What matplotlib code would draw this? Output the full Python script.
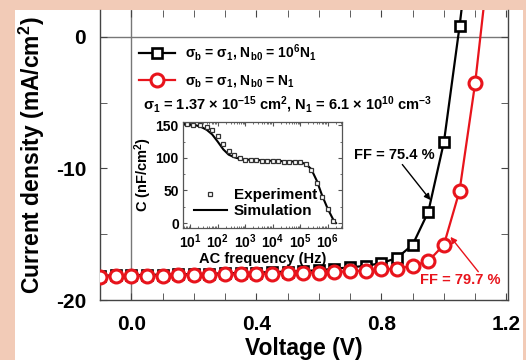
import numpy as np
import matplotlib
matplotlib.use("Agg")
import matplotlib.pyplot as plt
from matplotlib.patches import Rectangle
from matplotlib.lines import Line2D
from matplotlib.ticker import MultipleLocator, LogLocator, NullFormatter, FixedLocator

plt.rcParams['font.family'] = ['Liberation Sans', 'DejaVu Sans']
plt.rcParams['font.weight'] = 'bold'
plt.rcParams['axes.unicode_minus'] = False
plt.rcParams['mathtext.fontset'] = 'custom'
plt.rcParams['mathtext.rm'] = 'Liberation Sans:bold'
plt.rcParams['mathtext.bf'] = 'Liberation Sans:bold'
plt.rcParams['mathtext.it'] = 'Liberation Sans:bold'
plt.rcParams['mathtext.sf'] = 'Liberation Sans:bold'

# ---- main J-V data ----
voltage = [-0.10, -0.05, 0.00, 0.05, 0.10, 0.15, 0.20, 0.25, 0.30, 0.35, 0.40, 0.45,
           0.50, 0.55, 0.60, 0.65, 0.70, 0.75, 0.80, 0.85, 0.90, 0.95, 1.00, 1.05, 1.10]
j_black = [-18.15, -18.13, -18.11, -18.09, -18.07, -18.05, -18.03, -18.00, -17.97, -17.94,
           -17.91, -17.88, -17.84, -17.80, -17.74, -17.62, -17.52, -17.40, -17.20, -16.80,
           -15.80, -13.30, -8.00, 0.80]
j_red = [-18.22, -18.20, -18.18, -18.16, -18.14, -18.12, -18.10, -18.08, -18.06, -18.04,
         -18.02, -18.00, -17.97, -17.94, -17.91, -17.87, -17.82, -17.76, -17.68, -17.62,
         -17.40, -17.05, -15.80, -11.70, -3.50]
# end of the simulated curves where they leave the top of the plot
v_black_end, j_black_end = 1.056, 2.0
v_red_end, j_red_end = 1.126, 2.0

# ---- inset C-f data ----
f_exp = [7.5, 13, 23, 40, 63, 100, 160, 250, 400, 630, 1000, 1600, 2500, 4000, 6300,
         1e4, 1.6e4, 2.5e4, 4e4, 6.3e4, 1e5, 1.6e5, 2.5e5, 4e5, 6.3e5, 1e6, 1.6e6]
c_exp = [152, 151, 150, 147, 142, 134, 122, 111, 104, 100, 97.5, 96.5, 96, 95.5, 95,
         95, 94.5, 94, 94, 93.5, 93, 90, 81, 62, 40, 22, 3]
f_sim = [6, 10, 16, 25, 40, 63, 100, 160, 250, 400, 630, 1000, 1e4, 5e4, 1e5, 1.6e5,
         2.5e5, 4e5, 6.3e5, 1e6, 1.6e6, 2e6]
c_sim = [152, 151, 150, 147.5, 143, 136, 125, 113, 105, 101, 98.5, 97.5, 95.5, 94.5, 93.5,
         90.5, 83, 65, 42, 22, 5, 0]

PEACH = '#f2cbb7'
RED = '#e8141c'

fig = plt.figure(figsize=(5.26, 3.6), dpi=100, facecolor=PEACH)
fig.patches.append(Rectangle((15/526, 0), (523-15)/526, 350/360, transform=fig.transFigure,
                             facecolor='white', edgecolor='none', zorder=-10))

ax = fig.add_axes([100/526, 60/360, 408/526, 290/360])
ax.set_facecolor('white')
ax.set_xlim(-0.1, 1.205)
ax.set_ylim(-20, 2.05)
ax.axhline(0, color='#777777', lw=1.0, zorder=1)
ax.axvline(0, color='#777777', lw=1.0, zorder=1)

ax.plot(voltage[:len(j_black)] + [v_black_end], j_black + [j_black_end], color='black', lw=1.6, zorder=3)
ax.plot(voltage[:len(j_black)], j_black, ls='none', marker='s', ms=6.8, mfc='white', mec='black',
        mew=1.9, zorder=3)
ax.plot(voltage + [v_red_end], j_red + [j_red_end], color=RED, lw=1.6, zorder=4)
ax.plot(voltage, j_red, ls='none', marker='o', ms=9.3, mfc='white', mec=RED, mew=2.2, zorder=4)

for s in ['left', 'right', 'bottom']:
    ax.spines[s].set_color('#444444')
    ax.spines[s].set_linewidth(1.0)
ax.spines['top'].set_visible(False)

ax.xaxis.set_major_locator(FixedLocator([0.0, 0.4, 0.8, 1.2]))
ax.xaxis.set_minor_locator(MultipleLocator(0.1))
ax.yaxis.set_major_locator(MultipleLocator(10))
ax.yaxis.set_minor_locator(MultipleLocator(5))
ax.set_xticklabels(['0.0', '0.4', '0.8', '1.2'])
ax.tick_params(which='both', direction='in', top=True, right=True, color='#444444')
ax.tick_params(which='major', length=5, labelsize=15, pad=11)
ax.tick_params(which='minor', length=5)
ax.tick_params(axis='y', pad=10)
ax.set_xlabel('Voltage (V)', fontsize=16.5, fontweight='bold', labelpad=2)
ax.set_ylabel('Current density (mA/cm$^2$)', fontsize=16.5, fontweight='bold', labelpad=6)

handles = [Line2D([], [], color='black', lw=1.6, marker='s', ms=6.8, mfc='white', mec='black', mew=1.9),
           Line2D([], [], color=RED, lw=1.6, marker='o', ms=9.3, mfc='white', mec=RED, mew=2.2)]
labels = ['σ$_\\mathregular{b}$ = σ$_\\mathregular{1}$, N$_\\mathregular{b0}$ = 10$^\\mathregular{6}$N$_\\mathregular{1}$',
          'σ$_\\mathregular{b}$ = σ$_\\mathregular{1}$, N$_\\mathregular{b0}$ = N$_\\mathregular{1}$']
leg = ax.legend(handles, labels, loc='upper left', bbox_to_anchor=(0.065, 0.93), frameon=False,
                prop={'size': 10, 'weight': 'bold'}, handlelength=2.6, handletextpad=0.7,
                labelspacing=0.7)
ax.text(0.105, 0.672, 'σ$_\\mathregular{1}$ = 1.37 × 10$^\\mathregular{-15}$ cm$^\\mathregular{2}$, '
        'N$_\\mathregular{1}$ = 6.1 × 10$^\\mathregular{10}$ cm$^\\mathregular{-3}$',
        transform=ax.transAxes, fontsize=10.5, fontweight='bold', va='center', ha='left')

ax.text(0.842, -9.0, 'FF = 75.4 %', fontsize=10.5, fontweight='bold', color='black',
        ha='center', va='center')
ax.annotate('', xy=(0.957, -12.4), xytext=(0.867, -9.7),
            arrowprops=dict(arrowstyle='-|>', color='black', lw=1.0, shrinkA=0, shrinkB=0,
                            mutation_scale=9))
ax.text(1.053, -18.5, 'FF = 79.7 %', fontsize=10.5, fontweight='bold', color=RED,
        ha='center', va='center')
ax.annotate('', xy=(1.021, -15.2), xytext=(1.11, -17.85),
            arrowprops=dict(arrowstyle='-|>', color=RED, lw=1.0, shrinkA=0, shrinkB=0,
                            mutation_scale=9))

# ---- inset ----
ins = fig.add_axes([183/526, 1 - 228/360, (342-183)/526, (228-122)/360])
ins.set_xscale('log')
ins.set_xlim(5.5, 3.3e6)
ins.set_ylim(-7.5, 155)
ins.plot(f_sim, c_sim, color='black', lw=1.5, label='Simulation')
ins.plot(f_exp, c_exp, ls='none', marker='s', ms=3.5, mfc='white', mec='#333333', mew=0.9,
         label='Experiment')
for s in ins.spines.values():
    s.set_color('#555555')
    s.set_linewidth(0.9)
ins.xaxis.set_major_locator(LogLocator(base=10, numticks=10))
ins.xaxis.set_minor_locator(LogLocator(base=10, subs=np.arange(2, 10), numticks=20))
ins.xaxis.set_minor_formatter(NullFormatter())
ins.yaxis.set_major_locator(MultipleLocator(50))
ins.yaxis.set_minor_locator(MultipleLocator(25))
ins.tick_params(which='both', direction='in', top=True, right=True, color='#555555')
ins.tick_params(which='major', length=3, labelsize=10, pad=3)
ins.tick_params(which='minor', length=1.5)
ins.set_xlabel('AC frequency (Hz)', fontsize=10.5, fontweight='bold', labelpad=1)
ins.set_ylabel('C (nF/cm$^2$)', fontsize=10.5, fontweight='bold', labelpad=1)
h, l = ins.get_legend_handles_labels()
ins.legend([h[1], h[0]], [l[1], l[0]], loc='lower left', bbox_to_anchor=(-0.02, -0.04), frameon=False,
           prop={'size': 11, 'weight': 'bold'}, handlelength=2.2, handletextpad=0.45,
           labelspacing=0.15)

fig.savefig('out.png', dpi=100, facecolor=PEACH)
